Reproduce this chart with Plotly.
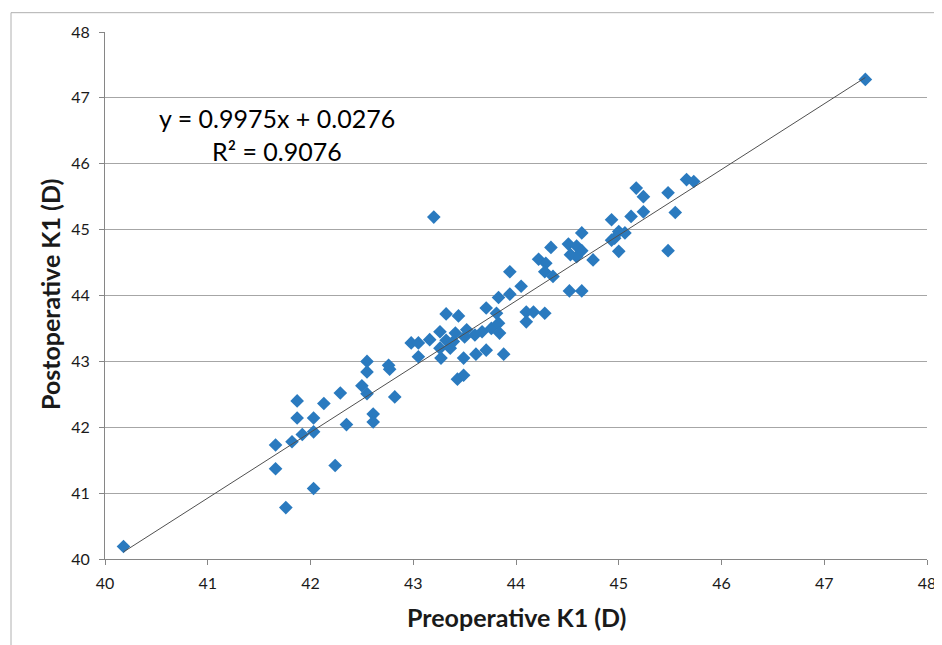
import plotly.graph_objects as go

# Preoperative K1 (D) - x values
preop_k1 = [
    40.18, 41.66, 41.66, 41.76, 41.82, 41.87, 41.87, 41.92, 42.03, 42.03,
    42.03, 42.13, 42.24, 42.29, 42.35, 42.50, 42.55, 42.55, 42.55, 42.61,
    42.61, 42.76, 42.77, 42.82, 42.98, 43.05, 43.05, 43.16, 43.20, 43.26,
    43.26, 43.27, 43.32, 43.32, 43.36, 43.39, 43.41, 43.43, 43.44, 43.49,
    43.49, 43.50, 43.52, 43.60, 43.61, 43.67, 43.71, 43.71, 43.76, 43.81,
    43.83, 43.83, 43.84, 43.88, 43.94, 43.94, 44.05, 44.10, 44.17, 44.10,
    44.28, 44.22, 44.29, 44.28, 44.36, 44.34, 44.51, 44.53, 44.52, 44.59,
    44.59, 44.64, 44.64, 44.64, 44.75, 44.93, 44.93, 44.96, 45.00, 45.06,
    45.00, 45.12, 45.17, 45.24, 45.24, 45.48, 45.48, 45.55, 45.66, 45.73,
    47.40,
]
# Postoperative K1 (D) - y values
postop_k1 = [
    40.19, 41.73, 41.37, 40.78, 41.78, 42.40, 42.14, 41.89, 41.93, 42.14,
    41.07, 42.36, 41.42, 42.52, 42.04, 42.63, 42.51, 43.00, 42.84, 42.20,
    42.08, 42.94, 42.88, 42.46, 43.28, 43.28, 43.07, 43.33, 45.19, 43.45,
    43.20, 43.05, 43.72, 43.32, 43.20, 43.30, 43.43, 42.73, 43.69, 43.05,
    42.79, 43.37, 43.48, 43.40, 43.11, 43.45, 43.81, 43.17, 43.50, 43.73,
    43.97, 43.58, 43.43, 43.11, 44.02, 44.36, 44.14, 43.75, 43.75, 43.60,
    43.73, 44.55, 44.49, 44.36, 44.29, 44.73, 44.78, 44.62, 44.07, 44.75,
    44.59, 44.68, 44.95, 44.07, 44.54, 45.15, 44.84, 44.87, 44.97, 44.95,
    44.67, 45.20, 45.63, 45.50, 45.27, 45.56, 44.68, 45.26, 45.76, 45.73,
    47.28,
]

trend_slope = 0.9975
trend_intercept = 0.0276
r_squared = 0.9076

x_title = "Preoperative K1 (D)"
y_title = "Postoperative K1 (D)"
tick_values = [40, 41, 42, 43, 44, 45, 46, 47, 48]

FONT = "Lato"
AXIS_COLOR = "#868686"
GRID_COLOR = "#a6a6a6"

# page is offset by the 8px body margin; plot area spans window px 105..927 x 32..559
OFF = 8
PL, PR, PT, PB = 105, 927, 32.3, 558.7
PW, PH = PR - PL, PB - PT


def px(xw):
    return (xw - PL) / PW


def py(yw):
    return (PB - yw) / PH


fig = go.Figure()

fig.add_trace(go.Scatter(
    x=preop_k1, y=postop_k1, mode="markers",
    marker=dict(symbol="diamond", size=10.5, color="#2a7abf",
                line=dict(width=0)),
    showlegend=False, cliponaxis=False,
))

x_lo, x_hi = min(preop_k1), max(preop_k1)
fig.add_trace(go.Scatter(
    x=[x_lo, x_hi],
    y=[trend_slope * x_lo + trend_intercept, trend_slope * x_hi + trend_intercept],
    mode="lines", line=dict(color="#505050", width=1),
    showlegend=False, hoverinfo="skip",
))

fig.add_annotation(
    xref="paper", yref="paper", x=px(277), y=py(118),
    text=f"y = {trend_slope}x + {trend_intercept}", showarrow=False,
    font=dict(family=FONT, size=25, color="#000000"), xanchor="center", yanchor="middle",
)
fig.add_annotation(
    xref="paper", yref="paper", x=px(277), y=py(151),
    text=f"R² = {r_squared}", showarrow=False,
    font=dict(family=FONT, size=25, color="#000000"), xanchor="center", yanchor="middle",
)
fig.add_annotation(
    xref="paper", yref="paper", x=px(516), y=py(617),
    text=f"<b>{x_title}</b>", showarrow=False,
    font=dict(family=FONT, size=25, color="#1a1a1a"), xanchor="center", yanchor="middle",
)
fig.add_annotation(
    xref="paper", yref="paper", x=px(50), y=py(295), textangle=-90,
    text=f"<b>{y_title}</b>", showarrow=False,
    font=dict(family=FONT, size=25, color="#1a1a1a"), xanchor="center", yanchor="middle",
)

# chart area frame
fig.add_shape(
    type="rect", xref="paper", yref="paper",
    x0=px(11), x1=1.2, y0=-0.3, y1=py(13),
    line=dict(color="#b0b0b0", width=1), fillcolor="rgba(0,0,0,0)", layer="below",
)

fig.update_layout(
    width=942 - OFF, height=645 - OFF,
    margin=dict(l=PL - OFF, r=942 - PR, t=PT - OFF, b=645 - PB),
    paper_bgcolor="white", plot_bgcolor="white",
    font=dict(family=FONT, size=16, color="#1a1a1a"),
    xaxis=dict(
        range=[40, 48], tickvals=tick_values, showgrid=False, zeroline=False,
        showline=True, linecolor=AXIS_COLOR, linewidth=1, automargin=False,
        ticks="outside", ticklen=5, tickcolor=AXIS_COLOR, ticklabelstandoff=5,
    ),
    yaxis=dict(
        range=[40, 48], tickvals=tick_values, showgrid=True, gridcolor=GRID_COLOR, gridwidth=1,
        zeroline=False, showline=True, linecolor=AXIS_COLOR, linewidth=1, automargin=False,
        ticks="outside", ticklen=5, tickcolor=AXIS_COLOR, ticklabelstandoff=6,
    ),
)

fig.write_html("out.html")
